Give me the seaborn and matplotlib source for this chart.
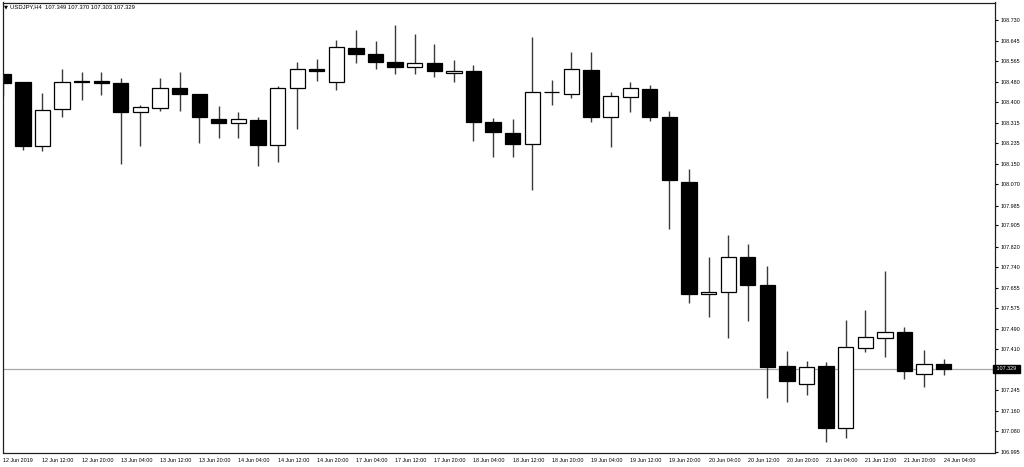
import numpy as np
import pandas as pd
import matplotlib
matplotlib.use("Agg")
import matplotlib.pyplot as plt
import matplotlib.transforms as mtransforms
import seaborn as sns

# ---- data (USDJPY H4) ----
opens = [108.512, 108.480, 108.225, 108.371, 108.481, 108.484, 108.477, 108.361, 108.377, 108.457,
         108.433, 108.334, 108.316, 108.329, 108.227, 108.456, 108.533, 108.481, 108.619, 108.595,
         108.563, 108.541, 108.557, 108.516, 108.525, 108.322, 108.278, 108.231, 108.441, 108.434,
         108.528, 108.341, 108.422, 108.454, 108.342, 108.078, 107.629, 107.637, 107.777, 107.667,
         107.340, 107.268, 107.340, 107.091, 107.412, 107.455, 107.476, 107.308, 107.349]
highs = [108.515, 108.482, 108.436, 108.532, 108.522, 108.522, 108.496, 108.388, 108.496, 108.520,
         108.434, 108.384, 108.359, 108.341, 108.465, 108.560, 108.573, 108.650, 108.690, 108.644,
         108.710, 108.674, 108.634, 108.569, 108.549, 108.335, 108.333, 108.663, 108.488, 108.601,
         108.600, 108.442, 108.480, 108.468, 108.366, 108.131, 107.780, 107.868, 107.830, 107.742,
         107.401, 107.361, 107.356, 107.524, 107.566, 107.721, 107.496, 107.405, 107.370]
lows = [108.425, 108.208, 108.204, 108.342, 108.409, 108.429, 108.151, 108.224, 108.366, 108.366,
        108.235, 108.255, 108.255, 108.145, 108.159, 108.292, 108.485, 108.448, 108.556, 108.532,
        108.512, 108.512, 108.502, 108.480, 108.245, 108.181, 108.181, 108.048, 108.390, 108.418,
        108.319, 108.220, 108.362, 108.325, 107.890, 107.593, 107.537, 107.455, 107.523, 107.211,
        107.198, 107.225, 107.037, 107.051, 107.396, 107.378, 107.288, 107.257, 107.303]
closes = [108.478, 108.225, 108.369, 108.481, 108.483, 108.476, 108.361, 108.380, 108.457, 108.432,
          108.341, 108.316, 108.331, 108.227, 108.457, 108.532, 108.525, 108.620, 108.592, 108.561,
          108.540, 108.557, 108.526, 108.526, 108.322, 108.279, 108.231, 108.441, 108.439, 108.532,
          108.341, 108.424, 108.456, 108.341, 108.086, 107.630, 107.638, 107.777, 107.666, 107.338,
          107.281, 107.338, 107.091, 107.416, 107.456, 107.476, 107.320, 107.348, 107.329]

x_labels = ["12 Jun 2019", "12 Jun 12:00", "12 Jun 20:00", "13 Jun 04:00", "13 Jun 12:00",
            "13 Jun 20:00", "14 Jun 04:00", "14 Jun 12:00", "14 Jun 20:00", "17 Jun 04:00",
            "17 Jun 12:00", "17 Jun 20:00", "18 Jun 04:00", "18 Jun 12:00", "18 Jun 20:00",
            "19 Jun 04:00", "19 Jun 12:00", "19 Jun 20:00", "20 Jun 04:00", "20 Jun 12:00",
            "20 Jun 20:00", "21 Jun 04:00", "21 Jun 12:00", "21 Jun 20:00", "24 Jun 04:00"]
y_ticks = [108.730, 108.645, 108.565, 108.480, 108.400, 108.315, 108.235, 108.150, 108.070,
           107.985, 107.905, 107.820, 107.740, 107.655, 107.575, 107.490, 107.410,
           107.245, 107.160, 107.080, 106.995]
current_price = 107.329
title_text = "USDJPY,H4  107.349 107.370 107.303 107.329"

df = pd.DataFrame({"open": opens, "high": highs, "low": lows, "close": closes})
df["idx"] = np.arange(len(df))
df["bull"] = df["close"] >= df["open"]

# ---- style ----
sns.set_style("white")
FONT = ["Liberation Sans", "DejaVu Sans"]
plt.rcParams["font.family"] = FONT

W, H = 1024, 467
fig = plt.figure(figsize=(W / 100, H / 100), dpi=100)
fig.patch.set_facecolor("white")
ax_l, ax_r, ax_t, ax_b = 2.5, 995, 2.5, 452.5
ax = fig.add_axes([ax_l / W, (H - ax_b) / H, (ax_r - ax_l) / W, (ax_b - ax_t) / H])
ax.set_facecolor("white")

# current price line
ax.axhline(current_price, color="#a8a8a8", lw=0.9, zorder=0.5)

# wicks
ax.vlines(df["idx"], df["low"], df["high"], color="#3a3a3a", lw=1.0, zorder=1)

# bodies
bw = 0.78
body_bottom = np.minimum(df["open"], df["close"])
body_h = (df["close"] - df["open"]).abs()
face = np.where(df["bull"], "white", "black")
ax.bar(df["idx"], body_h, bottom=body_bottom, width=bw, color=face,
       edgecolor="black", linewidth=0.9, zorder=2)

# axes limits
ax.set_xlim(-0.04, 50.62)
ax.set_ylim(106.9938, 108.800)

# x ticks
ax.set_xticks(np.arange(0, len(df), 2))
ax.set_xticklabels(x_labels, fontsize=3.9, ha="left")
offset = mtransforms.ScaledTranslation(1.2 / 100, 0, fig.dpi_scale_trans)
for lbl in ax.get_xticklabels():
    lbl.set_transform(lbl.get_transform() + offset)
ax.tick_params(axis="x", direction="out", length=2.5, width=0.8, pad=1.2, colors="black")

# y ticks on right
ax.yaxis.tick_right()
ax.set_yticks(y_ticks)
ax.set_yticklabels([f"{v:.3f}" for v in y_ticks], fontsize=3.9)
ax.tick_params(axis="y", direction="out", length=2.0, width=0.8, pad=1.8, colors="black",
               left=False, right=True)

for s in ax.spines.values():
    s.set_color("#202020")
    s.set_linewidth(0.9)

# current price tag
trans = mtransforms.blended_transform_factory(ax.transAxes, ax.transData)
ax.text(1.0, current_price, " 107.329 ", transform=trans, ha="left", va="center",
        fontsize=3.9, color="white", zorder=5, clip_on=False,
        bbox=dict(boxstyle="square,pad=0.35", facecolor="black", edgecolor="black"))

# title
fig.text(3.5 / W, 1 - 6.8 / H, "\u25bc", fontsize=3.8, family=["DejaVu Sans"],
         va="center", ha="left", color="black")
fig.text(9.5 / W, 1 - 6.8 / H, title_text, fontsize=4.2, family=FONT,
         va="center", ha="left", color="black")

fig.savefig("out.png", dpi=100, facecolor="white")
